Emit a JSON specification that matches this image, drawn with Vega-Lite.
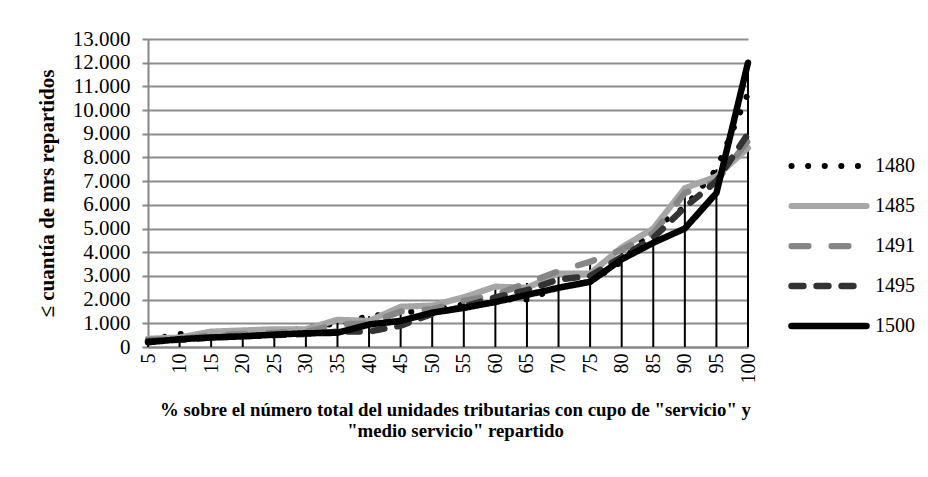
{
  "$schema": "https://vega.github.io/schema/vega-lite/v6.json",
  "width": 600,
  "height": 308,
  "autosize": {"type": "none"},
  "padding": {"left": 148, "top": 39, "right": 180, "bottom": 130},
  "background": "white",
  "title": {
    "text": "(1480, 1485, 1491, 1495, 1500)",
    "font": "Liberation Serif",
    "fontSize": 20,
    "fontWeight": "bold",
    "color": "black",
    "frame": "group",
    "anchor": "middle",
    "baseline": "alphabetic",
    "offset": 27,
    "dx": 37
  },
  "data": {
    "values": [
      {"pct": 5, "year": "1480", "v": 300}, {"pct": 10, "year": "1480", "v": 550}, {"pct": 15, "year": "1480", "v": 500}, {"pct": 20, "year": "1480", "v": 500}, {"pct": 25, "year": "1480", "v": 600},
      {"pct": 30, "year": "1480", "v": 800}, {"pct": 35, "year": "1480", "v": 1000}, {"pct": 40, "year": "1480", "v": 1300}, {"pct": 45, "year": "1480", "v": 1450}, {"pct": 50, "year": "1480", "v": 1550},
      {"pct": 55, "year": "1480", "v": 1800}, {"pct": 60, "year": "1480", "v": 2000}, {"pct": 65, "year": "1480", "v": 2000}, {"pct": 70, "year": "1480", "v": 2500}, {"pct": 75, "year": "1480", "v": 2750},
      {"pct": 80, "year": "1480", "v": 3600}, {"pct": 85, "year": "1480", "v": 5000}, {"pct": 90, "year": "1480", "v": 5900}, {"pct": 95, "year": "1480", "v": 7500}, {"pct": 100, "year": "1480", "v": 10700},
      {"pct": 5, "year": "1485", "v": 350}, {"pct": 10, "year": "1485", "v": 400}, {"pct": 15, "year": "1485", "v": 650}, {"pct": 20, "year": "1485", "v": 700}, {"pct": 25, "year": "1485", "v": 750},
      {"pct": 30, "year": "1485", "v": 750}, {"pct": 35, "year": "1485", "v": 1150}, {"pct": 40, "year": "1485", "v": 1100}, {"pct": 45, "year": "1485", "v": 1700}, {"pct": 50, "year": "1485", "v": 1750},
      {"pct": 55, "year": "1485", "v": 2100}, {"pct": 60, "year": "1485", "v": 2550}, {"pct": 65, "year": "1485", "v": 2500}, {"pct": 70, "year": "1485", "v": 3100}, {"pct": 75, "year": "1485", "v": 3100},
      {"pct": 80, "year": "1485", "v": 4200}, {"pct": 85, "year": "1485", "v": 5000}, {"pct": 90, "year": "1485", "v": 6700}, {"pct": 95, "year": "1485", "v": 7200}, {"pct": 100, "year": "1485", "v": 8400},
      {"pct": 5, "year": "1491", "v": 300}, {"pct": 10, "year": "1491", "v": 350}, {"pct": 15, "year": "1491", "v": 500}, {"pct": 20, "year": "1491", "v": 550}, {"pct": 25, "year": "1491", "v": 600},
      {"pct": 30, "year": "1491", "v": 650}, {"pct": 35, "year": "1491", "v": 950}, {"pct": 40, "year": "1491", "v": 1000}, {"pct": 45, "year": "1491", "v": 1500}, {"pct": 50, "year": "1491", "v": 1600},
      {"pct": 55, "year": "1491", "v": 1950}, {"pct": 60, "year": "1491", "v": 2200}, {"pct": 65, "year": "1491", "v": 2700}, {"pct": 70, "year": "1491", "v": 3200}, {"pct": 75, "year": "1491", "v": 3600},
      {"pct": 80, "year": "1491", "v": 4100}, {"pct": 85, "year": "1491", "v": 4800}, {"pct": 90, "year": "1491", "v": 6500}, {"pct": 95, "year": "1491", "v": 7000}, {"pct": 100, "year": "1491", "v": 8700},
      {"pct": 5, "year": "1495", "v": 250}, {"pct": 10, "year": "1495", "v": 300}, {"pct": 15, "year": "1495", "v": 400}, {"pct": 20, "year": "1495", "v": 450}, {"pct": 25, "year": "1495", "v": 500},
      {"pct": 30, "year": "1495", "v": 550}, {"pct": 35, "year": "1495", "v": 650}, {"pct": 40, "year": "1495", "v": 650}, {"pct": 45, "year": "1495", "v": 900}, {"pct": 50, "year": "1495", "v": 1400},
      {"pct": 55, "year": "1495", "v": 1700}, {"pct": 60, "year": "1495", "v": 2100}, {"pct": 65, "year": "1495", "v": 2400}, {"pct": 70, "year": "1495", "v": 2850}, {"pct": 75, "year": "1495", "v": 3000},
      {"pct": 80, "year": "1495", "v": 3800}, {"pct": 85, "year": "1495", "v": 4600}, {"pct": 90, "year": "1495", "v": 5900}, {"pct": 95, "year": "1495", "v": 7000}, {"pct": 100, "year": "1495", "v": 9000},
      {"pct": 5, "year": "1500", "v": 200}, {"pct": 10, "year": "1500", "v": 330}, {"pct": 15, "year": "1500", "v": 400}, {"pct": 20, "year": "1500", "v": 450}, {"pct": 25, "year": "1500", "v": 520},
      {"pct": 30, "year": "1500", "v": 580}, {"pct": 35, "year": "1500", "v": 600}, {"pct": 40, "year": "1500", "v": 950}, {"pct": 45, "year": "1500", "v": 1100}, {"pct": 50, "year": "1500", "v": 1450},
      {"pct": 55, "year": "1500", "v": 1650}, {"pct": 60, "year": "1500", "v": 1900}, {"pct": 65, "year": "1500", "v": 2200}, {"pct": 70, "year": "1500", "v": 2500}, {"pct": 75, "year": "1500", "v": 2750},
      {"pct": 80, "year": "1500", "v": 3700}, {"pct": 85, "year": "1500", "v": 4400}, {"pct": 90, "year": "1500", "v": 5000}, {"pct": 95, "year": "1500", "v": 6500}, {"pct": 100, "year": "1500", "v": 12000}
    ]
  },
  "encoding": {
    "x": {
      "field": "pct",
      "type": "ordinal",
      "scale": {"type": "point", "padding": 0},
      "axis": {
        "title": ["% sobre el número total del unidades tributarias con cupo de \"servicio\" y", "\"medio servicio\" repartido"],
        "labelAngle": -90,
        "labelAlign": "right",
        "labelBaseline": "middle",
        "labelPadding": 6,
        "labelFontSize": 20,
        "ticks": false,
        "titleFontSize": 18.8,
        "titleLineHeight": 21,
        "titlePadding": 17,
        "titleX": 307
      }
    }
  },
  "layer": [
    {
      "mark": {"type": "rule", "color": "black", "strokeWidth": 2},
      "encoding": {
        "y": {
          "aggregate": "max",
          "field": "v",
          "type": "quantitative",
          "scale": {"domain": [0, 13000], "nice": false},
          "axis": {
            "title": "≤ cuantía de mrs repartidos",
            "values": [0, 1000, 2000, 3000, 4000, 5000, 6000, 7000, 8000, 9000, 10000, 11000, 12000, 13000],
            "labelExpr": "replace(format(datum.value, ','), ',', '.')",
            "labelOverlap": false,
            "labelFontSize": 21,
            "titleFontSize": 21,
            "grid": true,
            "tickSize": 6,
            "labelPadding": 12,
            "titlePadding": 15
          }
        },
        "y2": {"datum": 0}
      }
    },
    {
      "mark": {"type": "line", "strokeCap": "round", "strokeJoin": "round"},
      "encoding": {
        "y": {
          "field": "v",
          "type": "quantitative",
          "scale": {"domain": [0, 13000], "nice": false},
          "axis": {
            "title": "≤ cuantía de mrs repartidos",
            "values": [0, 1000, 2000, 3000, 4000, 5000, 6000, 7000, 8000, 9000, 10000, 11000, 12000, 13000],
            "labelExpr": "replace(format(datum.value, ','), ',', '.')",
            "labelOverlap": false,
            "labelFontSize": 21,
            "titleFontSize": 21,
            "grid": true,
            "tickSize": 6,
            "labelPadding": 12,
            "titlePadding": 15
          }
        },
        "color": {
          "field": "year",
          "type": "nominal",
          "scale": {"domain": ["1480", "1485", "1491", "1495", "1500"], "range": ["#000000", "#a6a6a6", "#868686", "#333333", "#000000"]},
          "legend": {"title": null, "encoding": {"symbols": {"strokeCap": {"value": "round"}}}}
        },
        "strokeDash": {
          "field": "year",
          "type": "nominal",
          "scale": {"domain": ["1480", "1485", "1491", "1495", "1500"], "range": [[0.1, 16.5], [1, 0], [17, 23], [12, 13], [1, 0]]},
          "legend": {"title": null, "encoding": {"symbols": {"strokeCap": {"value": "round"}}}}
        },
        "strokeWidth": {
          "field": "year",
          "type": "nominal",
          "scale": {"domain": ["1480", "1485", "1491", "1495", "1500"], "range": [6, 6.5, 5, 5, 4.5]},
          "legend": {"title": null, "encoding": {"symbols": {"strokeCap": {"value": "round"}}}}
        }
      }
    }
  ],
  "config": {
    "view": {"stroke": null},
    "font": "Liberation Serif",
    "axis": {
      "labelFont": "Liberation Serif",
      "labelColor": "black",
      "titleFont": "Liberation Serif",
      "titleFontWeight": "bold",
      "titleColor": "black",
      "domainColor": "#868686",
      "domainWidth": 2,
      "tickColor": "#868686",
      "tickWidth": 2,
      "gridColor": "#8c8c8c",
      "gridWidth": 2
    },
    "legend": {
      "orient": "none",
      "legendX": 640,
      "legendY": 117,
      "padding": 0,
      "symbolType": "stroke",
      "symbolSize": 5625,
      "clipHeight": 20,
      "rowPadding": 20,
      "labelFont": "Liberation Serif",
      "labelFontSize": 20,
      "labelColor": "black",
      "labelOffset": 5,
      "symbolOpacity": 1
    }
  }
}
